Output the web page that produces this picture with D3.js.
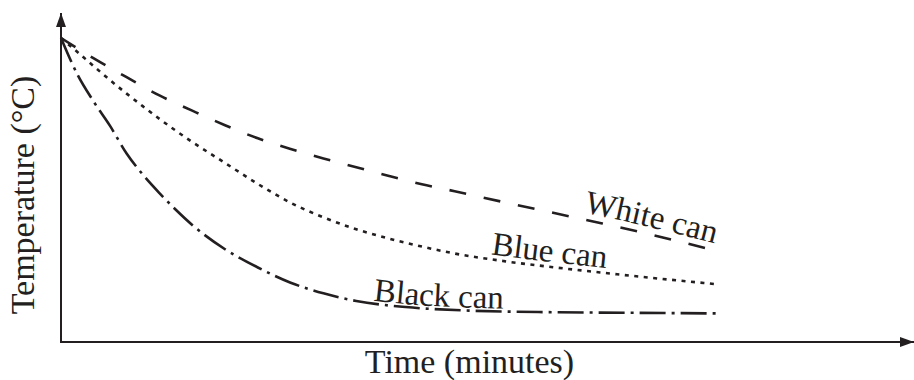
<!DOCTYPE html>
<html>
<head>
<meta charset="utf-8">
<script src="https://cdn.jsdelivr.net/npm/d3@7"></script>
<style>
  html, body { margin: 0; padding: 0; background: #ffffff; }
  svg { display: block; }
  text { font-family: "Liberation Serif", "Times New Roman", serif; fill: #231f20; }
</style>
</head>
<body>
<svg id="chart" width="914" height="380"></svg>
<script>
// ---- data (arbitrary units) ----
const timeWhite = [0, 2, 4, 6, 8, 10, 12, 14, 16, 18, 20, 22, 24, 27, 30, 33, 36, 39.75];
const tempWhite = [100, 93.3, 87.1, 81.1, 76.1, 71.3, 67.0, 63.5, 60.4, 57.5, 54.6, 51.9, 49.6, 46.0, 42.5, 39.0, 35.3, 30.2];

const timeBlue = [0, 1, 2, 3, 4, 5, 6, 7, 8, 10, 12, 14, 16, 18, 20, 22, 24, 27, 30, 33, 36, 40];
const tempBlue = [100, 95.4, 90.7, 86.1, 81.7, 77.5, 73.4, 69.5, 65.8, 58.9, 52.0, 45.8, 41.0, 37.1, 34.0, 31.4, 29.1, 26.6, 24.6, 22.8, 21.1, 19.0];

const timeBlack = [0, 1, 2, 3, 4, 5, 6, 7, 8, 10, 12, 14, 16, 18, 21, 25, 30, 35, 40];
const tempBlack = [100, 88, 79, 71, 62, 55, 49, 43.5, 38.5, 30.5, 24.5, 19.5, 16, 13.5, 11.5, 10.3, 9.8, 9.6, 9.4];

const seriesNames = ["White can", "Blue can", "Black can"];
const labelTime = [39.75, 26.15, 19.0];     // where each curve label is anchored
const xAxisTitle = "Time (minutes)";
const yAxisTitle = "Temperature (°C)";
const xAxisEnd = 52;
const yAxisEnd = 108.2;

// ---- drawing ----
const svg = d3.select("#chart");
const ink = "#231f20";

const x = d3.scaleLinear().domain([0, xAxisEnd]).range([61, 914]);
const y = d3.scaleLinear().domain([0, 100]).range([342, 38]);

const defs = svg.append("defs");
defs.append("marker")
  .attr("id", "arrow")
  .attr("viewBox", "0 0 14 10")
  .attr("refX", 14).attr("refY", 5)
  .attr("markerUnits", "userSpaceOnUse")
  .attr("markerWidth", 14).attr("markerHeight", 10)
  .attr("orient", "auto")
  .append("path")
  .attr("d", "M0,0 L14,5 L0,10 Z")
  .attr("fill", ink);

// axes
svg.append("line")
  .attr("x1", x(0)).attr("y1", y(0))
  .attr("x2", x(0)).attr("y2", y(yAxisEnd))
  .attr("stroke", ink).attr("stroke-width", 2)
  .attr("marker-end", "url(#arrow)");
svg.append("line")
  .attr("x1", x(0) - 1).attr("y1", y(0))
  .attr("x2", x(xAxisEnd)).attr("y2", y(0))
  .attr("stroke", ink).attr("stroke-width", 2)
  .attr("marker-end", "url(#arrow)");

// axis titles
svg.append("text")
  .attr("x", (x(0) + x(xAxisEnd)) / 2 - 18)
  .attr("y", 373)
  .attr("text-anchor", "middle")
  .attr("font-size", 34)
  .text(xAxisTitle);
svg.append("text")
  .attr("transform", "translate(34," + 195 + ") rotate(-90)")
  .attr("text-anchor", "middle")
  .attr("font-size", 34)
  .text(yAxisTitle);

// series
const series = [
  { name: seriesNames[0], t: timeWhite, v: tempWhite, dash: "17,18", lt: labelTime[0], anchor: "end", dy: -7 },
  { name: seriesNames[1], t: timeBlue, v: tempBlue, dash: "4,5.5", lt: labelTime[1], anchor: "start", dy: -5 },
  { name: seriesNames[2], t: timeBlack, v: tempBlack, dash: "26,6,3,6", lt: labelTime[2], anchor: "start", dy: -3 }
];

const line = d3.line()
  .x(d => x(d[0]))
  .y(d => y(d[1]))
  .curve(d3.curveMonotoneX);

series.forEach((s, i) => {
  const pts = s.t.map((t, k) => [t, s.v[k]]);
  const id = "curve" + i;
  const path = svg.append("path")
    .attr("id", id)
    .attr("d", line(pts))
    .attr("fill", "none")
    .attr("stroke", ink)
    .attr("stroke-width", 2.6)
    .attr("stroke-dasharray", s.dash);

  // find path-length offset at the label's time
  const node = path.node();
  const total = node.getTotalLength();
  const targetX = x(s.lt);
  let lo = 0, hi = total;
  for (let k = 0; k < 40; k++) {
    const mid = (lo + hi) / 2;
    if (node.getPointAtLength(mid).x < targetX) lo = mid; else hi = mid;
  }
  const offset = (lo + hi) / 2;

  svg.append("text")
    .attr("font-size", 33)
    .attr("text-anchor", s.anchor)
    .append("textPath")
    .attr("href", "#" + id)
    .attr("startOffset", offset)
    .append("tspan")
    .attr("dy", s.dy)
    .text(s.name);
});
</script>
</body>
</html>
